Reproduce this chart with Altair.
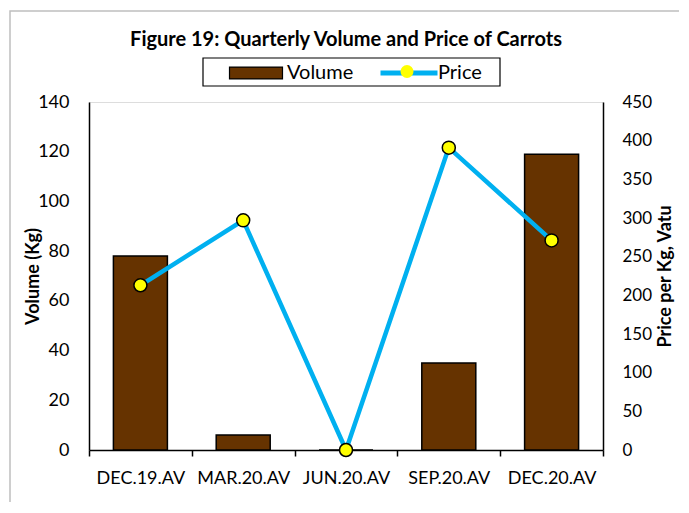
import altair as alt
import pandas as pd

quarters = ["DEC.19.AV", "MAR.20.AV", "JUN.20.AV", "SEP.20.AV", "DEC.20.AV"]
volume = [78, 6, 0, 35, 119]
price = [213, 297, 0, 391, 271]
vol_ticks = [0, 20, 40, 60, 80, 100, 120, 140]
price_ticks = [0, 50, 100, 150, 200, 250, 300, 350, 400, 450]

df = pd.DataFrame({"quarter": quarters, "volume": volume, "price": price})
one = pd.DataFrame({"k": [0]})

FONT = "Lato"
W, H = 514, 348
BROWN = "#663300"
BLUE = "#00B0F0"
YELLOW = "#FFFF00"

x = alt.X(
    "quarter:N", sort=quarters, title=None,
    scale=alt.Scale(paddingInner=0, paddingOuter=0),
    axis=alt.Axis(labelAngle=0, labelFontSize=18, labelFont=FONT, labelColor="black",
                  tickBand="extent", tickSize=6, tickColor="black", tickWidth=1.5,
                  labelPadding=13, domainColor="black", domainWidth=1.5, grid=False),
)

y_price = alt.Y(
    "price:Q", scale=alt.Scale(domain=[0, 450], nice=False),
    axis=alt.Axis(orient="right", values=price_ticks, title="Price per Kg, Vatu",
                  ticks=False, labelPadding=19,
                  labelFont=FONT, labelFontSize=17, labelColor="black",
                  titleFont=FONT, titleFontSize=18, titleFontWeight="bold", titleColor="black",
                  titleX=62, titleY=H / 2, titleAlign="center", titleBaseline="middle",
                  titleAngle=270,
                  domainColor="black", domainWidth=1.5, grid=False),
)

outer = alt.Chart(one).mark_rect(fillOpacity=0, stroke="#BFBFBF", strokeWidth=1.5).encode(
    x=alt.value(-79), x2=alt.value(591), y=alt.value(-91), y2=alt.value(420)
)
legbox = alt.Chart(one).mark_rect(fillOpacity=0, stroke="black", strokeWidth=1.2).encode(
    x=alt.value(114), x2=alt.value(411), y=alt.value(-44), y2=alt.value(-16)
)

bars = alt.Chart(df).transform_calculate(s_vol="'Volume'").mark_bar(
    size=54, stroke="black", strokeWidth=1.5).encode(
    x=x,
    y=alt.Y("volume:Q", scale=alt.Scale(domain=[0, 140], nice=False),
            axis=alt.Axis(values=vol_ticks, title="Volume (Kg)", ticks=False, labelPadding=20,
                          labelFont=FONT, labelFontSize=18, labelColor="black",
                          titleFont=FONT, titleFontSize=18, titleFontWeight="bold", titleColor="black",
                          titleX=-56, titleY=H / 2, titleAlign="center", titleBaseline="middle",
                          titleAngle=270,
                          domainColor="black", domainWidth=1.5, grid=False)),
    fill=alt.Fill("s_vol:N", scale=alt.Scale(domain=["Volume"], range=[BROWN]),
                  legend=alt.Legend(title=None, orient="none", legendX=153, legendY=-43,
                                    symbolType="M-2,-0.45H2V0.45H-2Z", symbolSize=702,
                                    symbolStrokeColor="black", symbolStrokeWidth=1.2,
                                    labelFont=FONT, labelFontSize=20, labelColor="black",
                                    labelOffset=17)),
)

line = alt.Chart(df).transform_calculate(s_price="'Price'").mark_line(strokeWidth=4.5).encode(
    x=x,
    y=y_price,
    stroke=alt.Stroke("s_price:N", scale=alt.Scale(domain=["Price"], range=[BLUE]),
                      legend=alt.Legend(title=None, orient="none", legendX=308, legendY=-41,
                                        symbolType="M-3,0H3", symbolSize=361, symbolStrokeWidth=5,
                                        labelFont=FONT, labelFontSize=20, labelColor="black",
                                        labelOffset=17)),
)

points = alt.Chart(df).transform_calculate(s_pt="'PricePoint'").mark_point(
    filled=True, fill=YELLOW, stroke="black", strokeWidth=1.5, size=169, opacity=1).encode(
    x=x,
    y=y_price,
    shape=alt.Shape("s_pt:N", scale=alt.Scale(domain=["PricePoint"], range=["circle"]),
                    legend=alt.Legend(title=None, orient="none", legendX=310.5, legendY=-38,
                                      symbolType="circle", symbolSize=169,
                                      symbolFillColor=YELLOW, symbolStrokeColor="black",
                                      symbolStrokeWidth=1.5, labelExpr="''")),
)

price_layer = alt.layer(line, points)

chart = alt.layer(outer, legbox, bars, price_layer).resolve_scale(
    y="independent"
).properties(
    width=W, height=H,
    autosize=alt.AutoSizeParams(type="none"),
    padding={"left": 81, "top": 94, "right": 76, "bottom": 52},
    title=alt.TitleParams("Figure 19: Quarterly Volume and Price of Carrots",
                          font=FONT, fontSize=20, fontWeight="bold", color="black",
                          anchor="middle", frame="group", offset=0, dy=40),
).configure_view(stroke="black", strokeWidth=1.5).configure(background="white")

chart.save("out.html", embed_options={"renderer": "svg", "actions": False})
